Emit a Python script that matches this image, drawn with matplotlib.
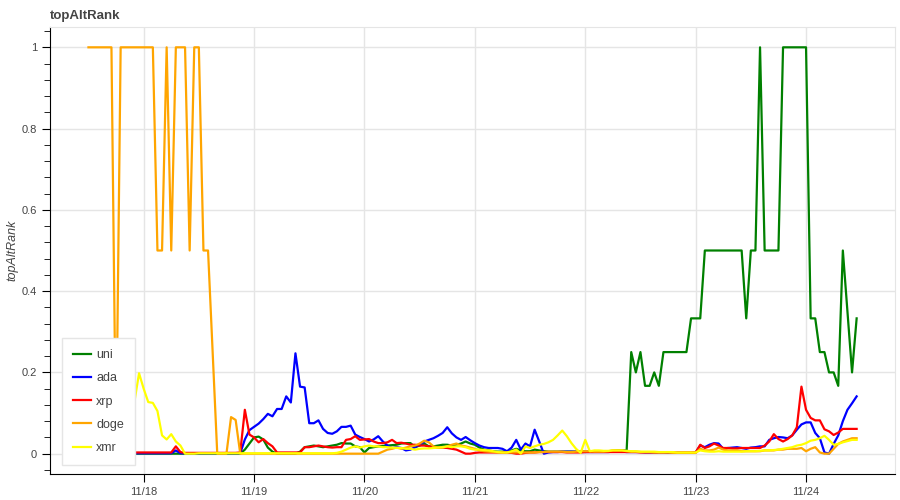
import matplotlib
matplotlib.use('Agg')
import matplotlib.pyplot as plt
import matplotlib.dates as mdates
import pandas as pd

plt.rcParams['font.family'] = ['Liberation Sans', 'DejaVu Sans']

# hourly samples, 11/17 12:00 -> 11/24 11:00
times = pd.date_range('2024-11-17 12:00', periods=168, freq='h')

uni = [
    0, 0, 0, 0, 0, 0, 0, 0, 0, 0, 0, 0,
    0, 0, 0, 0, 0, 0, 0, 0, 0, 0, 0, 0,
    0, 0, 0, 0, 0, 0, 0, 0, 0, 0, 0.01, 0.025,
    0.04, 0.042, 0.035, 0.015, 0.005, 0, 0, 0, 0, 0, 0.005, 0.016,
    0.018, 0.02, 0.018, 0.016, 0.018, 0.02, 0.022, 0.026, 0.025, 0.025, 0.018, 0.016,
    0.003, 0.014, 0.016, 0.018, 0.019, 0.02, 0.021, 0.022, 0.025, 0.026, 0.026, 0.016,
    0.02, 0.025, 0.018, 0.018, 0.02, 0.022, 0.022, 0.02, 0.022, 0.025, 0.03, 0.025,
    0.022, 0.015, 0.01, 0.008, 0.006, 0.005, 0.005, 0.006, 0.008, 0.012, 0.008, 0.006,
    0.006, 0.01, 0.008, 0.006, 0.005, 0.005, 0.005, 0.005, 0.005, 0.005, 0.005, 0.005,
    0.005, 0.005, 0.005, 0.005, 0.005, 0.006, 0.007, 0.008, 0.008, 0.008, 0.25, 0.2,
    0.25, 0.167, 0.167, 0.2, 0.167, 0.25, 0.25, 0.25, 0.25, 0.25, 0.25, 0.333,
    0.333, 0.333, 0.5, 0.5, 0.5, 0.5, 0.5, 0.5, 0.5, 0.5, 0.5, 0.333,
    0.5, 0.5, 1.0, 0.5, 0.5, 0.5, 0.5, 1.0, 1.0, 1.0, 1.0, 1.0,
    1.0, 0.333, 0.333, 0.25, 0.25, 0.2, 0.2, 0.167, 0.5, 0.35, 0.2, 0.333,
]

ada = [
    0.001, 0.001, 0.001, 0.001, 0.001, 0.001, 0.001, 0.001, 0.001, 0.001, 0.001, 0.001,
    0.001, 0.001, 0.001, 0.001, 0.001, 0.001, 0.001, 0.008, 0.001, 0.001, 0.001, 0.001,
    0.001, 0.001, 0.001, 0.001, 0.001, 0.001, 0.001, 0.001, 0.001, 0.001, 0.035, 0.058,
    0.066, 0.074, 0.085, 0.098, 0.092, 0.11, 0.11, 0.141, 0.126, 0.247, 0.165, 0.163,
    0.075, 0.075, 0.082, 0.061, 0.051, 0.049, 0.055, 0.066, 0.066, 0.069, 0.047, 0.041,
    0.036, 0.03, 0.035, 0.043, 0.03, 0.02, 0.014, 0.016, 0.014, 0.008, 0.01, 0.016,
    0.022, 0.03, 0.034, 0.038, 0.044, 0.051, 0.065, 0.05, 0.04, 0.034, 0.041, 0.033,
    0.026, 0.02, 0.016, 0.014, 0.014, 0.014, 0.012, 0.006, 0.015, 0.034, 0.01, 0.025,
    0.018, 0.059, 0.03, 0.0, 0.003, 0.004, 0.004, 0.005, 0.005, 0.005, 0.005, 0.004,
    0.004, 0.004, 0.004, 0.004, 0.004, 0.004, 0.005, 0.005, 0.005, 0.004, 0.004, 0.004,
    0.004, 0.003, 0.003, 0.003, 0.003, 0.003, 0.002, 0.002, 0.002, 0.002, 0.002, 0.002,
    0.003, 0.02, 0.016, 0.022, 0.026, 0.025, 0.012, 0.014, 0.015, 0.016, 0.014, 0.012,
    0.015, 0.016, 0.018, 0.018, 0.034, 0.038, 0.041, 0.04, 0.038, 0.045, 0.059, 0.072,
    0.077, 0.077, 0.051, 0.038, 0.003, 0.0, 0.024, 0.045, 0.08, 0.108, 0.124, 0.141,
]

xrp = [
    0.003, 0.003, 0.003, 0.003, 0.003, 0.003, 0.003, 0.003, 0.003, 0.003, 0.003, 0.003,
    0.003, 0.003, 0.003, 0.003, 0.003, 0.003, 0.003, 0.018, 0.004, 0.002, 0.002, 0.002,
    0.002, 0.002, 0.002, 0.002, 0.002, 0.002, 0.002, 0.002, 0.002, 0.003, 0.108, 0.047,
    0.04, 0.028, 0.036, 0.026, 0.018, 0.003, 0.003, 0.003, 0.003, 0.003, 0.003, 0.016,
    0.016, 0.018, 0.02, 0.018, 0.016, 0.015, 0.016, 0.016, 0.034, 0.036, 0.043, 0.034,
    0.035, 0.036, 0.03, 0.026, 0.026, 0.028, 0.034, 0.026, 0.027, 0.025, 0.022, 0.022,
    0.02, 0.02, 0.018, 0.016, 0.015, 0.015, 0.014, 0.012, 0.01, 0.005, 0.0, 0.0,
    0.002, 0.003, 0.003, 0.003, 0.003, 0.003, 0.003, 0.003, 0.002, 0.0, 0.0, 0.002,
    0.003, 0.003, 0.004, 0.004, 0.004, 0.004, 0.004, 0.004, 0.003, 0.003, 0.003, 0.003,
    0.004, 0.004, 0.004, 0.004, 0.004, 0.004, 0.004, 0.004, 0.004, 0.004, 0.004, 0.004,
    0.003, 0.003, 0.003, 0.003, 0.003, 0.003, 0.003, 0.003, 0.003, 0.003, 0.003, 0.003,
    0.003, 0.022, 0.014, 0.018, 0.025, 0.02, 0.014, 0.014, 0.013, 0.013, 0.014, 0.014,
    0.014, 0.014, 0.014, 0.02, 0.03, 0.048, 0.036, 0.03, 0.036, 0.045, 0.065, 0.165,
    0.108, 0.088, 0.082, 0.082, 0.06, 0.055, 0.046, 0.052, 0.061, 0.061, 0.061, 0.061,
]

doge = [
    1, 1, 1, 1, 1, 1, 0, 1, 1, 1, 1, 1,
    1, 1, 1, 0.5, 0.5, 1, 0.5, 1, 1, 1, 0.5, 1,
    1, 0.5, 0.5, 0.25, 0, 0, 0, 0.09, 0.083, 0, 0, 0,
    0, 0, 0, 0, 0, 0, 0, 0, 0, 0, 0, 0,
    0, 0, 0, 0, 0, 0, 0, 0, 0, 0, 0, 0,
    0, 0, 0, 0, 0.005, 0.01, 0.012, 0.015, 0.012, 0.015, 0.018, 0.02,
    0.025, 0.032, 0.028, 0.018, 0.015, 0.015, 0.018, 0.022, 0.025, 0.02, 0.018, 0.015,
    0.012, 0.008, 0.006, 0.005, 0.004, 0.003, 0.003, 0.003, 0.003, 0.003, 0.003, 0.003,
    0.003, 0.003, 0.004, 0.004, 0.005, 0.005, 0.005, 0.005, 0.004, 0.004, 0.005, 0.006,
    0.006, 0.006, 0.005, 0.005, 0.005, 0.006, 0.008, 0.008, 0.008, 0.006, 0.005, 0.005,
    0.004, 0.004, 0.004, 0.003, 0.003, 0.003, 0.003, 0.002, 0.002, 0.002, 0.002, 0.002,
    0.002, 0.012, 0.008, 0.008, 0.01, 0.015, 0.01, 0.008, 0.008, 0.008, 0.006, 0.006,
    0.006, 0.006, 0.006, 0.008, 0.008, 0.008, 0.01, 0.01, 0.012, 0.012, 0.012, 0.014,
    0.006, 0.012, 0.016, 0.003, 0, 0, 0.012, 0.024, 0.03, 0.034, 0.038, 0.038,
]

xmr = [
    0, 0, 0, 0, 0, 0, 0, 0, 0, 0.06, 0.128, 0.198,
    0.16, 0.127, 0.125, 0.105, 0.045, 0.035, 0.048, 0.03, 0.02, 0, 0, 0,
    0.001, 0.001, 0.001, 0.001, 0.001, 0.001, 0.001, 0.001, 0.001, 0.001, 0.001, 0.001,
    0.001, 0.001, 0.001, 0.001, 0.001, 0.001, 0.001, 0.001, 0.001, 0.001, 0.001, 0.001,
    0.001, 0.001, 0.001, 0.001, 0.001, 0.001, 0.002, 0.005, 0.01, 0.015, 0.018, 0.015,
    0.018, 0.02, 0.018, 0.018, 0.016, 0.016, 0.015, 0.014, 0.014, 0.012, 0.012, 0.01,
    0.012, 0.013, 0.013, 0.014, 0.015, 0.016, 0.018, 0.016, 0.018, 0.018, 0.016, 0.012,
    0.01, 0.01, 0.009, 0.008, 0.006, 0.004, 0.003, 0.003, 0.006, 0.01, 0.0, 0.018,
    0.014, 0.018, 0.022, 0.024, 0.028, 0.034, 0.045, 0.057, 0.043, 0.026, 0.012, 0.002,
    0.034, 0.006, 0.008, 0.008, 0.007, 0.007, 0.008, 0.008, 0.008, 0.007, 0.006, 0.006,
    0.005, 0.005, 0.005, 0.005, 0.004, 0.004, 0.004, 0.004, 0.003, 0.003, 0.003, 0.003,
    0.003, 0.008, 0.006, 0.005, 0.005, 0.006, 0.005, 0.005, 0.005, 0.005, 0.005, 0.006,
    0.006, 0.006, 0.007, 0.008, 0.008, 0.009, 0.01, 0.012, 0.014, 0.016, 0.02, 0.022,
    0.026, 0.032, 0.034, 0.038, 0.044, 0.034, 0.022, 0.024, 0.028, 0.031, 0.034, 0.034,
]

names = ['uni', 'ada', 'xrp', 'doge', 'xmr']
series = [uni, ada, xrp, doge, xmr]
colors = ['green', 'blue', 'red', 'orange', 'yellow']

fig = plt.figure(figsize=(9, 5), dpi=100)
ax = fig.add_axes([0.0556, 0.052, 0.9389, 0.894])

for name, vals, c in zip(names, series, colors):
    ax.plot(times, vals, color=c, lw=1.6, label=name)

# bokeh-style padding of the ranges
span = times[-1] - times[0]
ax.set_xlim(times[0] - span * 0.05, times[-1] + span * 0.05)
ax.set_ylim(-0.05, 1.05)

ax.xaxis.set_major_locator(mdates.DayLocator())
ax.xaxis.set_major_formatter(mdates.DateFormatter('%m/%d'))
ax.set_yticks([0, 0.2, 0.4, 0.6, 0.8, 1])
ax.set_yticklabels(['0', '0.2', '0.4', '0.6', '0.8', '1'])
ax.set_yticks([v / 100 for v in range(-4, 105, 4)], minor=True)

ax.grid(True, color='#e5e5e5', lw=1)
ax.set_axisbelow(True)
for s in ['top', 'right']:
    ax.spines[s].set_color('#e5e5e5')
for s in ['left', 'bottom']:
    ax.spines[s].set_color('black')
ax.tick_params(which='major', direction='out', length=6, labelsize=8, labelcolor='#444444')
ax.tick_params(which='minor', direction='out', length=4)
ax.tick_params(axis='x', which='minor', length=0)

ax.set_ylabel('topAltRank', fontstyle='italic', fontsize=9, color='#444444', labelpad=2)
ax.set_title('topAltRank', loc='left', fontweight='bold', fontsize=9.5, color='#444444', pad=6)

leg = ax.legend(loc='lower left', bbox_to_anchor=(0.0095, 0.011), fontsize=9,
                frameon=True, fancybox=False, framealpha=1, edgecolor='#e5e5e5',
                handlelength=1.4, labelspacing=0.9, borderpad=0.9, handletextpad=0.45,
                borderaxespad=0.3)
for t in leg.get_texts():
    t.set_color('#444444')

plt.savefig('out.png', dpi=100)
